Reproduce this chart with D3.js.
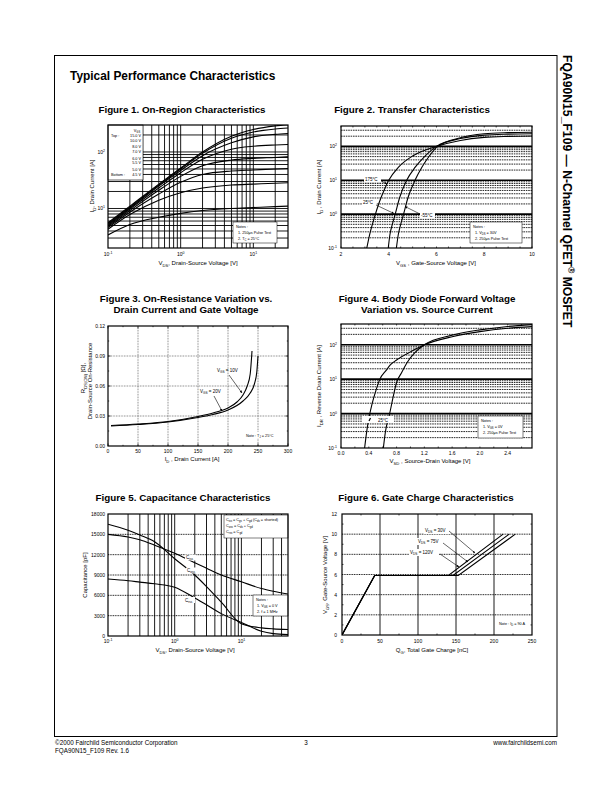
<!DOCTYPE html>
<html>
<head>
<meta charset="utf-8">
<script src="https://cdn.jsdelivr.net/npm/d3@7"></script>
<style>
  body { margin: 0; background: #fff; }
  svg { display: block; font-family: "Liberation Sans", Arial, Helvetica, sans-serif; }
  .frame { fill: none; stroke: #000; stroke-width: 1.2; }
  .curve { fill: none; stroke: #000; stroke-width: 1.1; }
  .solid { stroke: #000; stroke-width: 0.9; }
  .decade { stroke: #000; stroke-width: 1.6; }
  .dash { stroke: #111; stroke-width: 0.9; stroke-dasharray: 1.6, 0.8; }
  .dot { stroke: #444; stroke-width: 0.7; stroke-dasharray: 0.8, 0.8; }
  .dotdark { stroke: #000; stroke-width: 0.9; stroke-dasharray: 1, 0.7; }
  .tick { stroke: #000; stroke-width: 0.7; }
  .arrow { stroke: #000; stroke-width: 0.6; fill: none; }
</style>
</head>
<body>
<svg id="page" width="612" height="792"></svg>
<script>
// ---- Figure 1: on-region characteristics (ID vs VDS, per VGS)
var fig1Vds = [0.1, 0.2, 0.5, 1, 2, 5, 10, 20, 30];
var fig1Gate = ["15.0 V", "10.0 V", "8.0 V", "7.0 V", "6.0 V", "5.5 V", "5.0 V", "4.5 V"];
var fig1Id15 = [5.6, 11, 27, 52, 100, 190, 250, 290, 305];
var fig1Id10 = [5.4, 10.6, 26, 50, 95, 175, 225, 255, 265];
var fig1Id8 = [5.2, 10.2, 25, 47, 86, 145, 185, 205, 212];
var fig1Id7 = [5.0, 9.8, 23, 43, 74, 112, 126, 133, 136];
var fig1Id6 = [4.8, 9.2, 21, 37, 57, 72, 77, 80, 82];
var fig1Id55 = [4.6, 8.6, 18, 29, 40, 46, 48, 50, 51];
var fig1Id5 = [4.3, 7.8, 14, 19, 23, 26, 27, 28, 28.5];
var fig1Id45 = [3.4, 5.2, 7, 8.2, 9.2, 10, 10.4, 10.8, 11];

// ---- Figure 2: transfer characteristics (VGS, ID)
var fig2Temps = ["175\u00b0C", "25\u00b0C", "-55\u00b0C"];
var fig2Hot = [[3.08, 0.1], [3.2, 0.25], [3.4, 0.8], [3.6, 2.2], [3.8, 5], [4.0, 10], [4.4, 24], [5.0, 52], [6.0, 100], [7.0, 150], [8.0, 185], [9.0, 198], [10, 203]];
var fig2Room = [[3.98, 0.1], [4.05, 0.25], [4.15, 0.5], [4.27, 1], [4.45, 3], [4.75, 10], [5.1, 24], [5.5, 50], [6.0, 100], [7.0, 170], [8.0, 215], [9.0, 230], [10, 236]];
var fig2Cold = [[4.32, 0.1], [4.4, 0.25], [4.5, 0.5], [4.62, 1], [4.8, 3], [5.1, 10], [5.4, 25], [5.7, 52], [6.05, 100], [7.0, 180], [8.0, 235], [9.0, 255], [10, 262]];

// ---- Figure 3: on-resistance vs drain current
var fig3Id10 = [5, 50, 100, 150, 175, 200, 215, 225, 232, 237, 240];
var fig3R10 = [0.0205, 0.022, 0.0245, 0.0295, 0.033, 0.038, 0.044, 0.051, 0.060, 0.072, 0.095];
var fig3Id20 = [5, 50, 100, 150, 175, 200, 225, 237, 244, 248, 250];
var fig3R20 = [0.020, 0.0215, 0.024, 0.0285, 0.0315, 0.036, 0.045, 0.053, 0.062, 0.074, 0.09];

// ---- Figure 4: body diode forward voltage (VSD, IDR)
var fig4Hot = [[0.34, 0.1], [0.37, 0.3], [0.4, 0.7], [0.45, 2], [0.5, 4.5], [0.56, 10], [0.65, 18], [0.71, 26], [0.8, 36], [1.0, 62], [1.2, 100], [1.6, 170], [2.0, 240], [2.4, 300], [2.75, 335]];
var fig4Room = [[0.61, 0.1], [0.64, 0.3], [0.67, 0.6], [0.7, 1], [0.75, 3], [0.8, 8], [0.87, 15], [0.95, 30], [1.05, 55], [1.2, 100], [1.6, 190], [2.0, 270], [2.4, 340], [2.75, 385]];

// ---- Figure 5: capacitance vs VDS
var fig5V = [0.1, 0.2, 0.3, 0.5, 1, 2, 3, 5, 10, 20, 30, 50];
var fig5Ciss = [15000, 14600, 14200, 13400, 12200, 10800, 10000, 9000, 8000, 7000, 6600, 6200];
var fig5Coss = [16500, 15600, 14900, 13900, 11400, 9000, 7300, 5000, 1800, 1200, 1050, 950];
var fig5Crss = [8400, 8150, 7950, 7700, 7200, 5600, 4600, 3300, 2000, 700, 350, 200];

// ---- Figure 6: gate charge (QG, VGS) for three VDS
var fig6Vgs = [0, 5.9, 5.9, 10];
var fig6Q30 = [0, 43, 140, 212];
var fig6Q75 = [0, 43, 146, 220];
var fig6Q120 = [0, 43, 153, 228];

var svg = d3.select("#page");

svg.append("defs").append("marker")
    .attr("id", "arr").attr("viewBox", "0 0 6 6").attr("refX", 6).attr("refY", 3)
    .attr("markerWidth", 4).attr("markerHeight", 4).attr("orient", "auto")
    .append("path").attr("d", "M0,0 L6,3 L0,6 z").attr("fill", "#000");

// text with sub/superscript parts: "plain" or ["txt","sub"|"sup"]
function rich(g, x, y, parts, size, anchor, weight) {
    var t = g.append("text").attr("x", x).attr("y", y)
        .attr("font-size", size).attr("text-anchor", anchor || "start")
        .attr("font-weight", weight || "normal");
    var shift = 0;
    parts.forEach(function(p) {
        var str = typeof p === "string" ? p : p[0];
        var kind = typeof p === "string" ? null : p[1];
        var target = kind === "sub" ? size * 0.3 : kind === "sup" ? -size * 0.4 : 0;
        t.append("tspan").attr("dy", target - shift)
            .attr("font-size", kind ? size * 0.7 : size).text(str);
        shift = target;
    });
    return t;
}

function vlabel(g, x, y, parts, size) {
    var gg = g.append("g").attr("transform", "translate(" + x + "," + y + ") rotate(-90)");
    return rich(gg, 0, 0, parts, size, "middle");
}

function logVals(lo, hi) {
    var out = [];
    for (var n = Math.floor(Math.log10(lo)); n <= Math.ceil(Math.log10(hi)); n++) {
        for (var k = 1; k <= 9; k++) {
            var v = +(k * Math.pow(10, n)).toPrecision(3);
            if (v > lo * 1.001 && v < hi * 0.999) out.push(v);
        }
    }
    return out;
}
function isDecade(v) { return Math.abs(Math.log10(v) - Math.round(Math.log10(v))) < 1e-6; }

function vLines(g, x, y, vals, cls) {
    g.selectAll(null).data(vals).enter().append("line").attr("class", cls)
        .attr("x1", d => x(d)).attr("x2", d => x(d))
        .attr("y1", y.range()[0]).attr("y2", y.range()[1]);
}
function hLines(g, x, y, vals, cls) {
    g.selectAll(null).data(vals).enter().append("line").attr("class", cls)
        .attr("y1", d => y(d)).attr("y2", d => y(d))
        .attr("x1", x.range()[0]).attr("x2", x.range()[1]);
}
// short inward ticks on all four sides
function ticksX(g, x, y, vals, len) {
    vals.forEach(function(v) {
        g.append("line").attr("class", "tick").attr("x1", x(v)).attr("x2", x(v))
            .attr("y1", y.range()[0]).attr("y2", y.range()[0] - len);
        g.append("line").attr("class", "tick").attr("x1", x(v)).attr("x2", x(v))
            .attr("y1", y.range()[1]).attr("y2", y.range()[1] + len);
    });
}
function ticksY(g, x, y, vals, len) {
    vals.forEach(function(v) {
        g.append("line").attr("class", "tick").attr("y1", y(v)).attr("y2", y(v))
            .attr("x1", x.range()[0]).attr("x2", x.range()[0] + len);
        g.append("line").attr("class", "tick").attr("y1", y(v)).attr("y2", y(v))
            .attr("x1", x.range()[1]).attr("x2", x.range()[1] - len);
    });
}

var clipCount = 0;
function panel(x, y) {
    var g = svg.append("g");
    var id = "clip" + (clipCount++);
    var x0 = x.range()[0], x1 = x.range()[1], y0 = y.range()[0], y1 = y.range()[1];
    g.append("clipPath").attr("id", id).append("rect")
        .attr("x", x0).attr("y", y1).attr("width", x1 - x0).attr("height", y0 - y1);
    var p = {
        grid: g.append("g"),
        plot: g.append("g").attr("clip-path", "url(#" + id + ")"),
        over: g.append("g"),
        axis: g.append("g")
    };
    g.append("rect").attr("class", "frame")
        .attr("x", x0).attr("y", y1).attr("width", x1 - x0).attr("height", y0 - y1);
    return p;
}

function curve(g, x, y, pts, kind) {
    g.append("path").attr("class", "curve")
        .attr("d", d3.line().x(d => x(d[0])).y(d => y(d[1])).curve(kind || d3.curveMonotoneX)(pts));
}

function noteBox(g, x, y, w, h, lines, border) {
    g.append("rect").attr("x", x).attr("y", y).attr("width", w).attr("height", h)
        .attr("fill", "#fff").attr("stroke", border ? "#000" : "none").attr("stroke-width", 0.5);
    lines.forEach(function(l, i) {
        rich(g, x + l[0], y + 5.5 + i * 6, l[1], 3.8);
    });
}

function logLabel(g, x, y, v, anchor) {
    rich(g, x, y, ["10", [String(Math.round(Math.log10(v))), "sup"]], 5, anchor);
}

function title(lines, cx, y) {
    lines.forEach(function(s, i) {
        svg.append("text").attr("x", cx).attr("y", y + i * 11).attr("text-anchor", "middle")
            .attr("font-size", 9.8).attr("font-weight", "bold").text(s);
    });
}

// ---------------- page furniture
svg.append("rect").attr("x", 54.5).attr("y", 55.5).attr("width", 502.5).attr("height", 681)
    .attr("fill", "none").attr("stroke", "#000").attr("stroke-width", 1);
svg.append("text").attr("x", 70).attr("y", 80).attr("font-size", 11.9).attr("font-weight", "bold")
    .text("Typical Performance Characteristics");
var side = svg.append("g").attr("transform", "translate(563,55) rotate(90)");
rich(side, 0, 0, ["FQA90N15_F109 \u2014 N-Channel QFET", ["\u00ae", "sup"], " MOSFET"], 12.2, "start", "bold");
svg.append("text").attr("x", 55).attr("y", 745).attr("font-size", 6.3).text("\u00a92000 Fairchild Semiconductor Corporation");
svg.append("text").attr("x", 55).attr("y", 753).attr("font-size", 6.3).text("FQA90N15_F109 Rev. 1.6");
svg.append("text").attr("x", 306).attr("y", 745).attr("font-size", 6.3).attr("text-anchor", "middle").text("3");
svg.append("text").attr("x", 557).attr("y", 745).attr("font-size", 6.3).attr("text-anchor", "end").text("www.fairchildsemi.com");

title(["Figure 1. On-Region Characteristics"], 182, 113);
title(["Figure 2. Transfer Characteristics"], 412, 113);
title(["Figure 3. On-Resistance Variation vs.", "Drain Current and Gate Voltage"], 186, 302);
title(["Figure 4. Body Diode Forward Voltage", "Variation vs. Source Current"], 427, 302);
title(["Figure 5. Capacitance Characteristics"], 183, 501);
title(["Figure 6. Gate Charge Characteristics"], 426, 501);

// ---------------- Figure 1
(function() {
    var x = d3.scaleLog().domain([0.1, 30]).range([108, 288]);
    var y = d3.scaleLog().domain([2, 300]).range([248, 125]);
    var p = panel(x, y);
    vLines(p.grid, x, y, logVals(0.1, 30), "solid");
    hLines(p.grid, x, y, logVals(2, 300), "solid");
    [fig1Id15, fig1Id10, fig1Id8, fig1Id7, fig1Id6, fig1Id55, fig1Id5, fig1Id45].forEach(function(s) {
        curve(p.plot, x, y, fig1Vds.map((v, i) => [v, s[i]]));
    });
    // legend box
    var lg = p.over;
    lg.append("rect").attr("x", 108).attr("y", 125).attr("width", 35).attr("height", 55)
        .attr("fill", "#fff").attr("stroke", "#000").attr("stroke-width", 0.6);
    rich(lg, 137, 132, ["V", ["GS", "sub"]], 3.8, "middle");
    var ly = [137, 142, 148, 152.5, 159.5, 164, 170.5, 175.5];
    fig1Gate.forEach(function(s, i) {
        lg.append("text").attr("x", 141).attr("y", ly[i]).attr("font-size", 3.8).attr("text-anchor", "end").text(s);
    });
    lg.append("text").attr("x", 111).attr("y", ly[0]).attr("font-size", 3.8).text("Top :");
    lg.append("text").attr("x", 111).attr("y", ly[7]).attr("font-size", 3.8).text("Bottom :");
    noteBox(p.over, 233, 222, 44, 21, [[3, ["Notes :"]], [5, ["1. 250\u03bcs Pulse Test"]], [5, ["2. T", ["C", "sub"], " = 25\u00b0C"]]], true);
    [0.1, 1, 10].forEach(v => logLabel(p.axis, x(v), 256, v, "middle"));
    [10, 100].forEach(v => logLabel(p.axis, 105, y(v) + 2, v, "end"));
    rich(p.axis, 198, 265, ["V", ["DS", "sub"], ", Drain-Source Voltage [V]"], 6, "middle");
    vlabel(p.axis, 94, 186, ["I", ["D", "sub"], ", Drain Current [A]"], 6);
})();

// ---------------- Figure 2
(function() {
    var x = d3.scaleLinear().domain([2, 10]).range([341, 532]);
    var y = d3.scaleLog().domain([0.1, 400]).range([248, 126]);
    var p = panel(x, y);
    var hv = logVals(0.1, 400);
    hLines(p.grid, x, y, hv.filter(v => !isDecade(v)), "dash");
    hLines(p.grid, x, y, hv.filter(isDecade), "decade");
    ticksX(p.grid, x, y, d3.range(2, 10.01, 0.5), 1.5);
    curve(p.plot, x, y, fig2Hot);
    curve(p.plot, x, y, fig2Room);
    curve(p.plot, x, y, fig2Cold);
    var o = p.over;
    o.append("rect").attr("x", 364).attr("y", 176).attr("width", 17).attr("height", 6).attr("fill", "#fff");
    o.append("text").attr("x", 365).attr("y", 181).attr("font-size", 4.5).text(fig2Temps[0]);
    o.append("line").attr("class", "arrow").attr("x1", 381).attr("y1", 181).attr("x2", 387).attr("y2", 184).attr("marker-end", "url(#arr)");
    o.append("rect").attr("x", 362).attr("y", 199).attr("width", 14).attr("height", 6).attr("fill", "#fff");
    o.append("text").attr("x", 363).attr("y", 204).attr("font-size", 4.5).text(fig2Temps[1]);
    o.append("line").attr("class", "arrow").attr("x1", 376).attr("y1", 205).attr("x2", 394).attr("y2", 213.5).attr("marker-end", "url(#arr)");
    o.append("rect").attr("x", 420).attr("y", 212).attr("width", 15).attr("height", 6).attr("fill", "#fff");
    o.append("text").attr("x", 421).attr("y", 217).attr("font-size", 4.5).text(fig2Temps[2]);
    o.append("line").attr("class", "arrow").attr("x1", 420).attr("y1", 214).attr("x2", 405).attr("y2", 206.5).attr("marker-end", "url(#arr)");
    noteBox(o, 470, 222, 52, 21, [[3, ["Notes :"]], [5, ["1. V", ["DS", "sub"], " = 30V"]], [5, ["2. 250\u03bcs Pulse Test"]]], true);
    [2, 4, 6, 8, 10].forEach(v => p.axis.append("text").attr("x", x(v)).attr("y", 256).attr("font-size", 5).attr("text-anchor", "middle").text(v));
    [0.1, 1, 10, 100].forEach(v => logLabel(p.axis, 337, y(v) + 2, v, "end"));
    rich(p.axis, 436, 265, ["V", ["GS", "sub"], " , Gate-Source Voltage  [V]"], 6, "middle");
    vlabel(p.axis, 321, 187, ["I", ["D", "sub"], " , Drain Current  [A]"], 6);
})();

// ---------------- Figure 3
(function() {
    var x = d3.scaleLinear().domain([0, 300]).range([108, 288]);
    var y = d3.scaleLinear().domain([0, 0.12]).range([446, 326]);
    var p = panel(x, y);
    vLines(p.grid, x, y, d3.range(50, 300, 50), "dot");
    hLines(p.grid, x, y, [0.03, 0.06, 0.09], "dot");
    ticksX(p.grid, x, y, d3.range(0, 301, 50), 2.5);
    ticksX(p.grid, x, y, d3.range(25, 300, 50), 1.2);
    ticksY(p.grid, x, y, [0.03, 0.06, 0.09], 2.5);
    ticksY(p.grid, x, y, [0.015, 0.045, 0.075, 0.105], 1.2);
    curve(p.plot, x, y, fig3Id10.map((v, i) => [v, fig3R10[i]]));
    curve(p.plot, x, y, fig3Id20.map((v, i) => [v, fig3R20[i]]));
    var o = p.over;
    rich(o, 217, 372, ["V", ["GS", "sub"], " = 10V"], 4.5);
    o.append("line").attr("class", "arrow").attr("x1", 229).attr("y1", 375).attr("x2", 242).attr("y2", 393).attr("marker-end", "url(#arr)");
    rich(o, 200, 393, ["V", ["GS", "sub"], " = 20V"], 4.5);
    o.append("line").attr("class", "arrow").attr("x1", 214).attr("y1", 396).attr("x2", 222).attr("y2", 411).attr("marker-end", "url(#arr)");
    o.append("rect").attr("x", 244).attr("y", 432).attr("width", 34).attr("height", 6).attr("fill", "#fff");
    rich(o, 246, 436.5, ["Note : T", ["J", "sub"], " = 25\u00b0C"], 3.8);
    d3.range(0, 301, 50).forEach(v => p.axis.append("text").attr("x", x(v)).attr("y", 452.5).attr("font-size", 5).attr("text-anchor", "middle").text(v));
    [0, 0.03, 0.06, 0.09, 0.12].forEach(v => p.axis.append("text").attr("x", 105).attr("y", y(v) + 2).attr("font-size", 5).attr("text-anchor", "end").text(v.toFixed(2)));
    rich(p.axis, 192, 461, ["I", ["D", "sub"], " , Drain Current  [A]"], 6, "middle");
    vlabel(p.axis, 85, 378, ["R", ["DS(ON)", "sub"], " [\u03a9],"], 6);
    vlabel(p.axis, 92, 381, ["Drain-Source On-Resistance"], 6);
})();

// ---------------- Figure 4
(function() {
    var x = d3.scaleLinear().domain([0, 2.75]).range([341, 532]);
    var y = d3.scaleLog().domain([0.1, 400]).range([448, 324]);
    var p = panel(x, y);
    var hv = logVals(0.1, 400);
    hLines(p.grid, x, y, hv.filter(v => !isDecade(v)), "dash");
    hLines(p.grid, x, y, hv.filter(isDecade), "decade");
    ticksX(p.grid, x, y, d3.range(0, 2.75, 0.2), 1.5);
    curve(p.plot, x, y, fig4Hot);
    curve(p.plot, x, y, fig4Room);
    var o = p.over;
    o.append("rect").attr("x", 362).attr("y", 416).attr("width", 32).attr("height", 7).attr("fill", "#fff");
    o.append("line").attr("stroke", "#000").attr("stroke-width", 1.2).attr("x1", 369).attr("x2", 370.5).attr("y1", 421).attr("y2", 418);
    o.append("text").attr("x", 378).attr("y", 421.5).attr("font-size", 4.5).text("25\u00b0C");
    noteBox(o, 478, 416, 45, 22, [[3, ["Notes :"]], [5, ["1. V", ["GS", "sub"], " = 0V"]], [5, ["2. 250\u03bcs Pulse Test"]]], true);
    d3.range(0, 2.41, 0.4).forEach(v => p.axis.append("text").attr("x", x(v)).attr("y", 455).attr("font-size", 5).attr("text-anchor", "middle").text(v.toFixed(1)));
    [0.1, 1, 10, 100].forEach(v => logLabel(p.axis, 337, y(v) + 2, v, "end"));
    rich(p.axis, 430, 463, ["V", ["SD", "sub"], " , Source-Drain Voltage  [V]"], 6, "middle");
    vlabel(p.axis, 321, 386, ["I", ["DR", "sub"], " , Reverse Drain Current  [A]"], 6);
})();

// ---------------- Figure 5
(function() {
    var x = d3.scaleLog().domain([0.1, 50]).range([108, 288]);
    var y = d3.scaleLinear().domain([0, 18000]).range([636, 514]);
    var p = panel(x, y);
    vLines(p.grid, x, y, logVals(0.1, 50), "solid");
    hLines(p.grid, x, y, d3.range(3000, 18000, 3000), "dotdark");
    curve(p.plot, x, y, fig5V.map((v, i) => [v, fig5Ciss[i]]));
    curve(p.plot, x, y, fig5V.map((v, i) => [v, fig5Coss[i]]));
    curve(p.plot, x, y, fig5V.map((v, i) => [v, fig5Crss[i]]));
    var o = p.over;
    [["iss", 185, 554.5], ["oss", 186, 567.5], ["rss", 184, 597]].forEach(function(c) {
        o.append("rect").attr("x", c[1]).attr("y", c[2]).attr("width", 11).attr("height", 6).attr("fill", "#fff");
        rich(o, c[1] + 1, c[2] + 4.5, ["C", [c[0], "sub"]], 4.5);
    });
    noteBox(o, 224, 515, 64, 23, [[2, ["C", ["iss", "sub"], " = C", ["gs", "sub"], " + C", ["gd", "sub"], " (C", ["ds", "sub"], " = shorted)"]],
        [2, ["C", ["oss", "sub"], " = C", ["ds", "sub"], " + C", ["gd", "sub"]]], [2, ["C", ["rss", "sub"], " = C", ["gd", "sub"]]]], true);
    noteBox(o, 253, 595, 35, 21, [[3, ["Notes :"]], [4, ["1. V", ["GS", "sub"], " = 0 V"]], [4, ["2. f = 1 MHz"]]], true);
    [0.1, 1, 10].forEach(v => logLabel(p.axis, x(v), 643, v, "middle"));
    d3.range(0, 18001, 3000).forEach(v => p.axis.append("text").attr("x", 105).attr("y", y(v) + 2).attr("font-size", 5).attr("text-anchor", "end").text(v));
    rich(p.axis, 195, 652, ["V", ["DS", "sub"], ", Drain-Source Voltage [V]"], 6, "middle");
    vlabel(p.axis, 87, 575, ["Capacitance [pF]"], 6);
})();

// ---------------- Figure 6
(function() {
    var x = d3.scaleLinear().domain([0, 250]).range([342, 532]);
    var y = d3.scaleLinear().domain([0, 12]).range([635, 514]);
    var p = panel(x, y);
    vLines(p.grid, x, y, [50, 100, 150, 200], "solid");
    hLines(p.grid, x, y, [2, 4, 6, 8, 10], "dotdark");
    ticksX(p.grid, x, y, d3.range(25, 250, 50), 1.5);
    ticksY(p.grid, x, y, d3.range(1, 12, 2), 1.5);
    [fig6Q30, fig6Q75, fig6Q120].forEach(function(q) {
        curve(p.plot, x, y, q.map((v, i) => [v, fig6Vgs[i]]), d3.curveLinear);
    });
    var o = p.over;
    [["30V", 425, 532, 449, 531, 475, 553], ["75V", 418, 543, 443, 543, 468, 562], ["120V", 410, 554, 440, 554, 459, 567]].forEach(function(a) {
        o.append("rect").attr("x", a[1] - 1).attr("y", a[2] - 5).attr("width", a[0] === "120V" ? 30 : 26).attr("height", 7).attr("fill", "#fff");
        rich(o, a[1], a[2], ["V", ["DS", "sub"], " = " + a[0]], 4.5);
        o.append("line").attr("class", "arrow").attr("x1", a[3]).attr("y1", a[4]).attr("x2", a[5]).attr("y2", a[6]).attr("marker-end", "url(#arr)");
    });
    o.append("rect").attr("x", 497).attr("y", 620).attr("width", 27).attr("height", 6).attr("fill", "#fff");
    rich(o, 499, 624.5, ["Note : I", ["D", "sub"], " = 90 A"], 3.8);
    d3.range(0, 251, 50).forEach(v => p.axis.append("text").attr("x", x(v)).attr("y", 643).attr("font-size", 5).attr("text-anchor", "middle").text(v));
    d3.range(0, 13, 2).forEach(v => p.axis.append("text").attr("x", 337).attr("y", y(v) + 2).attr("font-size", 5).attr("text-anchor", "end").text(v));
    rich(p.axis, 432, 652, ["Q", ["G", "sub"], ", Total Gate Charge [nC]"], 6, "middle");
    vlabel(p.axis, 327, 575, ["V", ["GS", "sub"], ", Gate-Source Voltage [V]"], 6);
})();
</script>
</body>
</html>
